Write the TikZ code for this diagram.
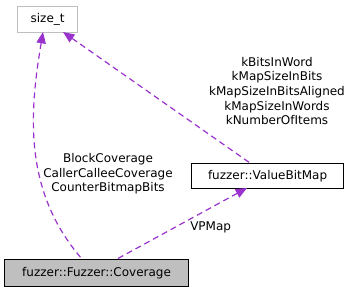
\documentclass[tikz,border=0pt]{standalone}
\usepackage{fontspec}
\setmainfont{DejaVu Sans}
\usetikzlibrary{arrows.meta}
\definecolor{edgepurple}{HTML}{9A32CD}
\definecolor{boxgray}{HTML}{BFBFBF}
\begin{document}
\begin{tikzpicture}[x=0.75pt,y=-0.75pt,
  font=\fontsize{9}{10.9}\selectfont,
  classbox/.style={draw=black, line width=0.9pt, inner sep=0pt, anchor=north west},
  extbox/.style={draw=boxgray, line width=0.9pt, inner sep=0pt, anchor=north west},
  rel/.style={draw=edgepurple, line width=0.9pt, dash pattern=on 4.5pt off 3pt,
    {Triangle[length=8.5pt,width=7pt,fill=edgepurple]}-},
  lbl/.style={align=center, inner sep=0pt}]
\useasboundingbox (0,0) rectangle (357,292);
% class boxes
\node[extbox, minimum width=60*0.75pt, minimum height=26*0.75pt] (sizet) at (17,6) {size\_t};
\node[classbox, minimum width=152*0.75pt, minimum height=25*0.75pt] (vbm) at (191,163) {fuzzer::ValueBitMap};
\node[classbox, fill=boxgray, minimum width=184*0.75pt, minimum height=27*0.75pt] (cov) at (4,259) {fuzzer::Fuzzer::Coverage};
% anchor points on the box edges
\coordinate (s1) at (43,32);
\coordinate (s2) at (63,32);
\coordinate (c1) at (82,259);
\coordinate (c2) at (117,259);
\coordinate (v1) at (250,163);
\coordinate (v2) at (247,188);
% relations
\draw[rel] (s1) .. controls (30,110) and (22,190) .. (c1);
\draw[rel] (s2) -- (v1);
\draw[rel] (v2) -- (c2);
% member labels
\node[lbl] (l1) at (108,174) {BlockCoverage\\CallerCalleeCoverage\\CounterBitmapBits};
\node[lbl] (l2) at (277,91) {kBitsInWord\\kMapSizeInBits\\kMapSizeInBitsAligned\\kMapSizeInWords\\kNumberOfItems};
\node[lbl, anchor=west] (l3) at (190,227) {VPMap};
\end{tikzpicture}
\end{document}
